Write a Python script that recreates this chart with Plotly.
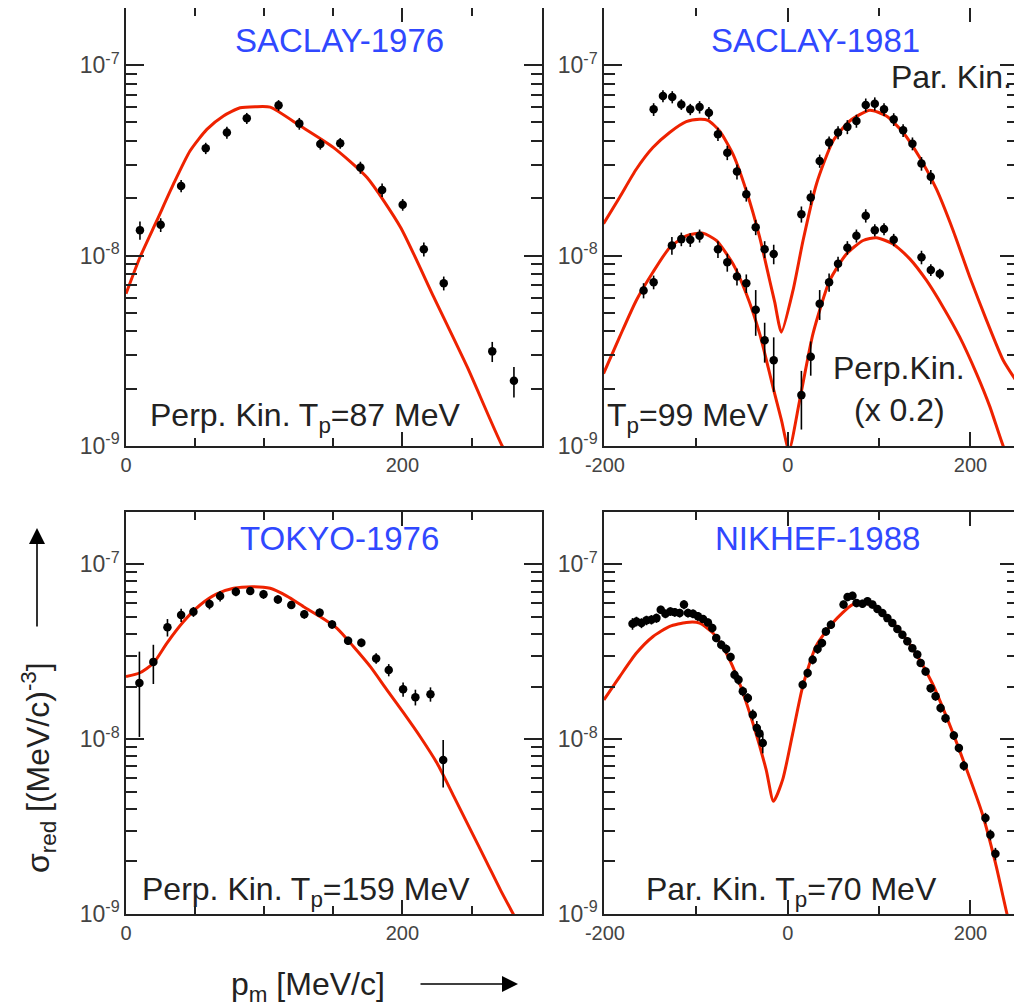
import plotly.graph_objects as go

# ---------------- data ----------------
# SACLAY-1976 (perp. kin., Tp=87 MeV)
s76_p = [10.1, 25.1, 39.9, 57.7, 73.0, 87.4, 110.4, 125.4, 140.6, 155.0, 169.6, 185.3, 200.2, 215.5, 229.9, 265.0, 280.7]
s76_sig = [1.36e-8, 1.45e-8, 2.32e-8, 3.66e-8, 4.43e-8, 5.26e-8, 6.15e-8, 4.93e-8, 3.85e-8, 3.89e-8, 2.90e-8, 2.21e-8, 1.85e-8, 1.08e-8, 7.16e-9, 3.14e-9, 2.20e-9]
s76_err = [1.5e-9, 1.2e-9, 1.7e-9, 2.5e-9, 3.2e-9, 3.5e-9, 4.0e-9, 3.5e-9, 2.5e-9, 2.5e-9, 2.1e-9, 1.8e-9, 1.3e-9, 0.9e-9, 0.6e-9, 0.38e-9, 0.4e-9]
s76_th_p = [0, 10.1, 22.2, 34.3, 46.4, 58.5, 70.5, 82.6, 93.5, 104.3, 126.0, 150.2, 174.4, 198.6, 222.7, 246.9, 272.2, 285.0]
s76_th = [6.3e-9, 9.8e-9, 1.52e-8, 2.37e-8, 3.55e-8, 4.60e-8, 5.41e-8, 5.97e-8, 6.05e-8, 6.02e-8, 4.80e-8, 3.69e-8, 2.57e-8, 1.41e-8, 6.05e-9, 2.60e-9, 1.0e-9, 0.7e-9]

# SACLAY-1981 parallel kinematics
s81par_p = [-146.7, -136.5, -126.3, -116.4, -106.6, -96.4, -86.2, -76.3, -66.1, -55.5, -45.3, -35.0, -25.2, -15.3,
            15.0, 25.2, 35.0, 45.3, 55.1, 65.3, 75.2, 85.4, 95.3, 105.4, 116.0, 126.3, 136.5, 146.4, 156.6]
s81par_sig = [5.86e-8, 6.89e-8, 6.80e-8, 6.22e-8, 5.86e-8, 6.02e-8, 5.62e-8, 4.34e-8, 3.47e-8, 2.76e-8, 2.10e-8, 1.41e-8, 1.08e-8, 1.02e-8,
              1.65e-8, 2.02e-8, 3.14e-8, 3.92e-8, 4.43e-8, 4.74e-8, 5.09e-8, 6.18e-8, 6.27e-8, 5.86e-8, 5.19e-8, 4.55e-8, 3.87e-8, 3.04e-8, 2.59e-8]
s81par_err = [4.5e-9, 5e-9, 5e-9, 4e-9, 4e-9, 4.5e-9, 4e-9, 3.5e-9, 3e-9, 2.5e-9, 1.8e-9, 1.3e-9, 1.1e-9, 1.2e-9,
              1.6e-9, 1.8e-9, 2.5e-9, 3e-9, 3.5e-9, 4e-9, 4e-9, 5e-9, 5e-9, 4.5e-9, 4e-9, 3.5e-9, 3e-9, 2.5e-9, 2.2e-9]
s81par_th_p = [-201.5, -184.0, -165.7, -147.5, -129.2, -111.0, -96.4, -87.2, -74.5, -59.9, -45.3, -30.7, -19.7, -14.2, -6.9, 5.8,
               16.8, 31.4, 49.6, 67.9, 89.8, 108.0, 126.3, 144.5, 162.8, 181.1, 199.3, 217.6, 235.8, 252.0]
s81par_th = [1.47e-8, 2.02e-8, 2.84e-8, 3.69e-8, 4.43e-8, 5.05e-8, 5.19e-8, 5.13e-8, 4.51e-8, 3.41e-8, 2.19e-8, 1.25e-8, 7.40e-9, 5.69e-9, 3.96e-9, 6.56e-9,
             1.20e-8, 2.37e-8, 4.00e-8, 5.09e-8, 5.80e-8, 5.41e-8, 4.43e-8, 3.27e-8, 2.23e-8, 1.35e-8, 7.69e-9, 4.57e-9, 2.82e-9, 2.13e-9]

# SACLAY-1981 perpendicular kinematics (x 0.2)
s81perp_p = [-157.7, -146.7, -126.7, -116.4, -106.6, -96.4, -76.3, -66.1, -55.5, -45.3, -35.0, -25.2, -15.3,
             15.0, 25.2, 35.0, 45.3, 55.1, 65.3, 75.2, 85.4, 95.3, 105.4, 116.0, 146.4, 156.6, 166.4]
s81perp_sig = [6.56e-9, 7.25e-9, 1.13e-8, 1.22e-8, 1.21e-8, 1.27e-8, 1.08e-8, 9.23e-9, 7.76e-9, 7.16e-9, 5.19e-9, 3.59e-9, 2.82e-9,
               1.85e-9, 2.94e-9, 5.59e-9, 7.25e-9, 9.05e-9, 1.10e-8, 1.27e-8, 1.62e-8, 1.36e-8, 1.38e-8, 1.21e-8, 9.8e-9, 8.41e-9, 8.02e-9]
s81perp_err = [6e-10, 6e-10, 1.2e-9, 1e-9, 1e-9, 1e-9, 1.1e-9, 1e-9, 8e-10, 8e-10, 1.4e-9, 0.85e-9, 0.9e-9,
               0.63e-9, 0.6e-9, 1.0e-9, 8e-10, 8e-10, 9e-10, 1e-9, 1.3e-9, 1e-9, 1e-9, 9e-10, 8e-10, 6e-10, 5e-10]
s81perp_th_p = [-201.5, -184.0, -165.7, -147.5, -129.2, -111.0, -92.7, -78.1, -59.9, -45.3, -30.7, -16.1, -6.9, 1.4, 13.1,
                27.7, 46.0, 64.3, 82.5, 97.1, 115.3, 133.6, 151.9, 170.1, 188.3, 206.6, 221.2, 235.8, 245.0]
s81perp_th = [2.40e-9, 3.73e-9, 5.81e-9, 8.17e-9, 1.10e-8, 1.27e-8, 1.31e-8, 1.20e-8, 9.05e-9, 6.30e-9, 3.89e-9, 2.04e-9, 1.37e-9, 0.95e-9, 1.74e-9,
              3.89e-9, 7.40e-9, 1.02e-8, 1.20e-8, 1.24e-8, 1.15e-8, 9.61e-9, 7.40e-9, 5.36e-9, 3.73e-9, 2.40e-9, 1.61e-9, 1.0e-9, 0.8e-9]

# TOKYO-1976 (perp. kin., Tp=159 MeV)
tk_p = [9.7, 19.8, 30.0, 39.9, 48.8, 60.4, 68.1, 79.5, 89.9, 99.5, 109.9, 119.6, 129.0, 140.1, 149.1, 160.7, 170.3, 181.0, 190.1, 200.5, 209.4, 220.3, 229.5]
tk_sig = [2.10e-8, 2.77e-8, 4.37e-8, 5.13e-8, 5.36e-8, 5.93e-8, 6.59e-8, 6.98e-8, 7.05e-8, 6.75e-8, 6.31e-8, 5.86e-8, 5.19e-8, 5.30e-8, 4.54e-8, 3.66e-8, 3.56e-8, 2.90e-8, 2.49e-8, 1.93e-8, 1.74e-8, 1.81e-8, 7.60e-9]
tk_err = [1.07e-8, 0.7e-8, 0.5e-8, 0.45e-8, 0.35e-8, 0.4e-8, 0.45e-8, 0.4e-8, 0.35e-8, 0.4e-8, 0.35e-8, 0.3e-8, 0.3e-8, 0.3e-8, 0.25e-8, 0.2e-8, 0.2e-8, 0.2e-8, 0.2e-8, 0.18e-8, 0.18e-8, 0.17e-8, 0.23e-8]
tk_th_p = [0, 10.1, 19.8, 29.5, 41.5, 53.6, 65.7, 77.8, 92.3, 104.3, 116.4, 128.5, 140.6, 152.7, 164.7, 176.8, 188.9, 201.0, 213.0, 225.1, 237.2, 249.3, 261.4, 271.0, 285.0]
tk_th = [2.28e-8, 2.40e-8, 2.72e-8, 3.54e-8, 4.70e-8, 5.86e-8, 6.78e-8, 7.30e-8, 7.45e-8, 7.30e-8, 6.59e-8, 5.73e-8, 5.02e-8, 4.31e-8, 3.38e-8, 2.60e-8, 1.91e-8, 1.41e-8, 1.03e-8, 7.28e-9, 4.71e-9, 3.03e-9, 1.95e-9, 1.37e-9, 0.85e-9]

# NIKHEF-1988 (par. kin., Tp=70 MeV)
nk_p = [-169.8, -165.5, -160.0, -154.5, -149.1, -143.6, -138.9, -133.8, -128.4, -123.6, -118.2, -113.5, -109.1, -103.6, -98.2,
        -92.7, -87.3, -82.5, -78.2, -72.7, -67.3, -62.5, -58.2, -53.8, -49.1, -43.6, -38.2, -33.8, -30.9, -27.3,
        16.4, 21.8, 27.3, 32.7, 37.5, 41.8, 47.3, 61.1, 65.5, 70.9, 75.3, 81.8, 87.3, 92.7, 98.2, 103.6, 109.1, 114.5,
        120.0, 125.5, 130.9, 136.4, 141.8, 145.5, 150.9, 156.4, 161.8, 167.3, 172.7, 181.8, 187.3, 192.7, 216.4, 221.8, 227.3]
nk_sig = [4.58e-8, 4.72e-8, 4.62e-8, 4.79e-8, 4.83e-8, 4.93e-8, 5.50e-8, 5.22e-8, 5.38e-8, 5.32e-8, 5.27e-8, 5.89e-8, 5.27e-8, 5.22e-8, 5.05e-8,
          4.87e-8, 4.66e-8, 4.33e-8, 3.79e-8, 3.47e-8, 3.28e-8, 2.95e-8, 2.34e-8, 2.19e-8, 1.88e-8, 1.72e-8, 1.38e-8, 1.16e-8, 1.08e-8, 9.5e-9,
          2.05e-8, 2.39e-8, 2.85e-8, 3.28e-8, 3.55e-8, 4.14e-8, 4.52e-8, 5.89e-8, 6.51e-8, 6.62e-8, 6.01e-8, 5.96e-8, 6.15e-8, 5.89e-8, 5.56e-8, 5.27e-8, 4.93e-8, 4.62e-8,
          4.27e-8, 3.96e-8, 3.63e-8, 3.32e-8, 3.05e-8, 2.73e-8, 2.44e-8, 1.96e-8, 1.76e-8, 1.51e-8, 1.32e-8, 1.05e-8, 8.9e-9, 7.06e-9, 3.54e-9, 2.84e-9, 2.21e-9]
nk_err = [3.5e-9, 3e-9, 3e-9, 3e-9, 3e-9, 3e-9, 3e-9, 3e-9, 3e-9, 3e-9, 3e-9, 3.5e-9, 3e-9, 3e-9, 3e-9,
          2.5e-9, 2.5e-9, 2.5e-9, 2e-9, 2e-9, 2e-9, 1.7e-9, 1.5e-9, 1.4e-9, 1.2e-9, 1.1e-9, 1.0e-9, 1.1e-9, 1.1e-9, 1.2e-9,
          1.2e-9, 1.4e-9, 1.7e-9, 2e-9, 2e-9, 2.3e-9, 2.5e-9, 3.2e-9, 3.5e-9, 3.5e-9, 3.2e-9, 3.2e-9, 3.2e-9, 3e-9, 2.8e-9, 2.7e-9, 2.5e-9, 2.3e-9,
          2.2e-9, 2e-9, 1.8e-9, 1.7e-9, 1.6e-9, 1.4e-9, 1.3e-9, 1.1e-9, 1.0e-9, 0.9e-9, 0.8e-9, 0.6e-9, 0.5e-9, 0.45e-9, 0.25e-9, 0.2e-9, 0.18e-9]
nk_th_p = [-201.1, -183.6, -165.5, -147.3, -129.1, -110.9, -96.4, -81.8, -67.3, -52.7, -38.2, -23.6, -15.6, -5.5, 5.5, 16.4,
           30.9, 49.1, 70.9, 85.5, 103.6, 121.8, 140.0, 158.2, 176.4, 194.5, 212.7, 227.3, 240.0, 245.0]
nk_th = [1.68e-8, 2.29e-8, 3.11e-8, 3.87e-8, 4.42e-8, 4.66e-8, 4.62e-8, 4.05e-8, 3.11e-8, 2.09e-8, 1.24e-8, 6.70e-9, 4.41e-9, 5.87e-9, 1.08e-8, 2.00e-8,
         3.40e-8, 4.62e-8, 5.89e-8, 6.01e-8, 5.32e-8, 4.23e-8, 3.11e-8, 2.09e-8, 1.24e-8, 7.00e-9, 3.78e-9, 1.96e-9, 1.0e-9, 0.8e-9]

# axis ticks
y_major = [1e-9, 1e-8, 1e-7]
y_major_text = ["10<sup>-9</sup>", "10<sup>-8</sup>", "10<sup>-7</sup>"]
y_minor = [2e-9, 3e-9, 4e-9, 5e-9, 6e-9, 7e-9, 8e-9, 9e-9, 2e-8, 3e-8, 4e-8, 5e-8, 6e-8, 7e-8, 8e-8, 9e-8]
xl_major = [0, 200]
xl_minor = [50, 100, 150, 250]
xr_major = [-200, 0, 200]
xr_minor = [-100, 100]

# ---------------- figure ----------------
OFF = 8                      # page body margin of the html page
W, H = 1022 - OFF, 1008 - OFF
FONT = "Liberation Sans, Arial, Helvetica, sans-serif"
RED = "#ee2200"
BLUE = "#3048ff"
AX = "#222222"

fig = go.Figure()

def px_x(p):
    return (p - OFF) / W

def px_y(p):
    return 1 - (p - OFF) / H

panels = {
    1: dict(x=(126, 542), y=(8, 446)),
    2: dict(x=(604, 1018), y=(8, 446)),
    3: dict(x=(126, 542), y=(512, 914)),
    4: dict(x=(604, 1018), y=(512, 914)),
}

def add_data(n, x, y, err):
    sx = "x" if n == 1 else f"x{n}"
    sy = "y" if n == 1 else f"y{n}"
    fig.add_trace(go.Scatter(x=x, y=y, mode="markers", xaxis=sx, yaxis=sy,
                             marker=dict(color="black", size=8.5, symbol="circle"),
                             error_y=dict(type="data", array=err, visible=True, color="black", thickness=1.6, width=0),
                             showlegend=False, hoverinfo="x+y"))

def add_curve(n, x, y):
    sx = "x" if n == 1 else f"x{n}"
    sy = "y" if n == 1 else f"y{n}"
    fig.add_trace(go.Scatter(x=x, y=y, mode="lines", xaxis=sx, yaxis=sy,
                             line=dict(color=RED, width=3, shape="spline", smoothing=0.6), showlegend=False))

add_curve(1, s76_th_p, s76_th)
add_data(1, s76_p, s76_sig, s76_err)
add_curve(2, s81par_th_p, s81par_th)
add_curve(2, s81perp_th_p, s81perp_th)
add_data(2, s81par_p, s81par_sig, s81par_err)
add_data(2, s81perp_p, s81perp_sig, s81perp_err)
add_curve(3, tk_th_p, tk_th)
add_data(3, tk_p, tk_sig, tk_err)
add_curve(4, nk_th_p, nk_th)
add_data(4, nk_p, nk_sig, nk_err)

layout = dict(width=W, height=H, margin=dict(l=0, r=0, t=0, b=0, pad=0), autosize=False,
              paper_bgcolor="white", plot_bgcolor="white", showlegend=False)

for n, pn in panels.items():
    xk = "xaxis" if n == 1 else f"xaxis{n}"
    yk = "yaxis" if n == 1 else f"yaxis{n}"
    left = n in (1, 3)
    layout[xk] = dict(
        domain=[px_x(pn["x"][0]), min(1.0, px_x(pn["x"][1]))],
        anchor="y" if n == 1 else f"y{n}",
        automargin=False,
        range=[0, 301] if left else [-201, 252],
        tickvals=xl_major if left else xr_major,
        ticktext=[str(v) for v in (xl_major if left else xr_major)],
        ticks="inside", ticklen=14, tickwidth=1.5, tickcolor=AX,
        minor=dict(tickvals=xl_minor if left else xr_minor, ticks="inside", ticklen=8, tickwidth=1.5, tickcolor=AX, showgrid=False),
        showline=True, linecolor=AX, linewidth=1.5, mirror="ticks",
        showgrid=False, zeroline=False,
        tickfont=dict(family=FONT, size=20, color="#444"),
    )
    layout[yk] = dict(
        domain=[px_y(pn["y"][1]), min(1.0, px_y(pn["y"][0]))],
        anchor="x" if n == 1 else f"x{n}",
        automargin=False,
        type="log", range=[-9, -6.70],
        tickvals=y_major, ticktext=y_major_text,
        ticks="inside", ticklen=18, tickwidth=1.5, tickcolor=AX,
        minor=dict(tickvals=y_minor, ticks="inside", ticklen=11, tickwidth=1.5, tickcolor=AX, showgrid=False),
        showline=True, linecolor=AX, linewidth=1.5, mirror="ticks",
        showgrid=False, zeroline=False,
        tickfont=dict(family=FONT, size=23, color="#444"),
    )

ann = []
def text(s, x, y, size=32, color="#222", xanchor="center", yanchor="middle", angle=0):
    ann.append(dict(text=s, x=px_x(x), y=px_y(y), xref="paper", yref="paper", showarrow=False,
                    xanchor=xanchor, yanchor=yanchor, textangle=angle,
                    font=dict(family=FONT, size=size, color=color)))

text("SACLAY-1976", 339, 40, size=33, color=BLUE)
text("SACLAY-1981", 815, 40, size=33, color=BLUE)
text("TOKYO-1976", 339, 538, size=33, color=BLUE)
text("NIKHEF-1988", 817, 538, size=33, color=BLUE)
text("Perp. Kin. T<sub>p</sub>=87 MeV", 148, 418, xanchor="left")
text("T<sub>p</sub>=99 MeV", 605, 418, xanchor="left")
text("Par. Kin.", 1014, 77, xanchor="right")
text("Perp.Kin.", 899, 368)
text("(x 0.2)", 899, 410)
text("Perp. Kin. T<sub>p</sub>=159 MeV", 140, 891, xanchor="left")
text("Par. Kin. T<sub>p</sub>=70 MeV", 644, 891, xanchor="left")
text("σ<sub>red</sub> [(MeV/c)<sup>-3</sup>]", 38, 768, size=32, angle=-90)
text("p<sub>m</sub> [MeV/c]", 308, 986, size=32)

# axis direction arrows
ann.append(dict(x=px_x(37), y=px_y(528), xref="paper", yref="paper", ax=0, ay=100, text="",
                showarrow=True, arrowhead=2, arrowsize=2, arrowwidth=1.6, arrowcolor="black"))
ann.append(dict(x=px_x(518), y=px_y(984), xref="paper", yref="paper", ax=-99, ay=0, text="",
                showarrow=True, arrowhead=2, arrowsize=2, arrowwidth=1.6, arrowcolor="black"))

layout["annotations"] = ann
fig.update_layout(**layout)
fig.write_html("out.html")
